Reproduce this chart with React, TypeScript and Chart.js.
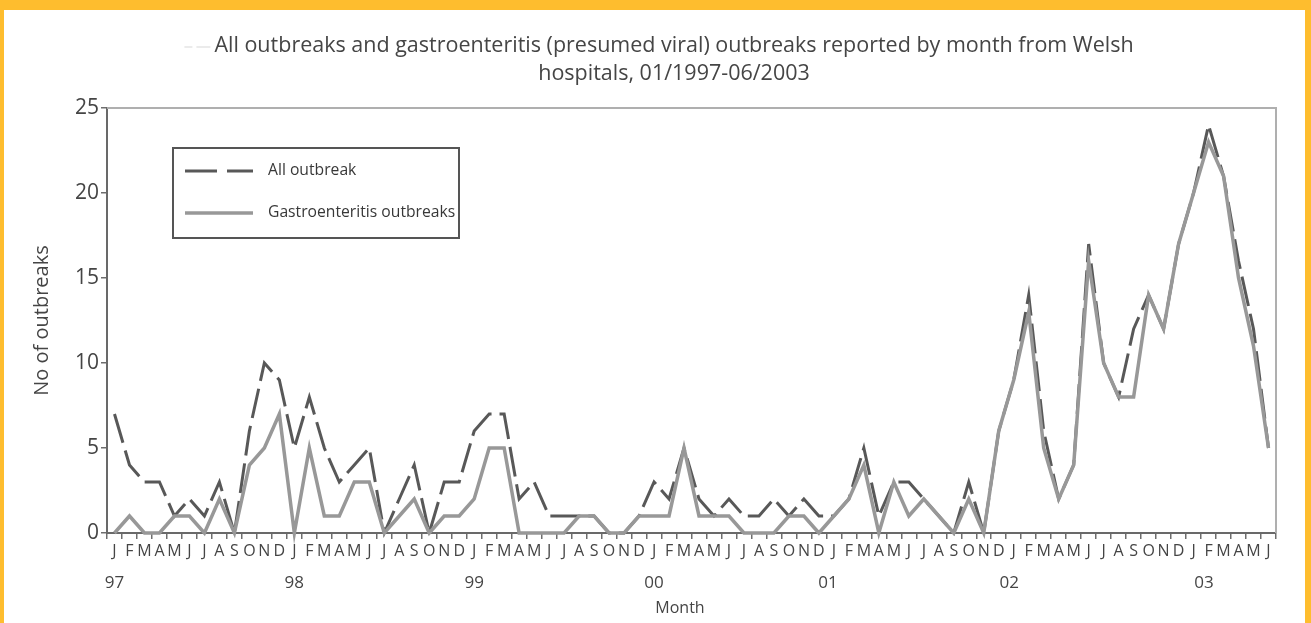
import React, { useEffect, useRef } from "react";
import { Chart, registerables } from "chart.js";

Chart.register(...registerables);

// ---------- data ----------
const categories: string[] = [
  "J", "F", "M", "A", "M", "J", "J", "A", "S", "O", "N", "D", // 1997
  "J", "F", "M", "A", "M", "J", "J", "A", "S", "O", "N", "D", // 1998
  "J", "F", "M", "A", "M", "J", "J", "A", "S", "O", "N", "D", // 1999
  "J", "F", "M", "A", "M", "J", "J", "A", "S", "O", "N", "D", // 2000
  "J", "F", "M", "A", "M", "J", "J", "A", "S", "O", "N", "D", // 2001
  "J", "F", "M", "A", "M", "J", "J", "A", "S", "O", "N", "D", // 2002
  "J", "F", "M", "A", "M", "J", // 2003
];

const allOutbreaks: number[] = [
  7, 4, 3, 3, 1, 2, 1, 3, 0, 6, 10, 9,
  5, 8, 5, 3, 4, 5, 0, 2, 4, 0, 3, 3,
  6, 7, 7, 2, 3, 1, 1, 1, 1, 0, 0, 1,
  3, 2, 5, 2, 1, 2, 1, 1, 2, 1, 2, 1,
  1, 2, 5, 1, 3, 3, 2, 1, 0, 3, 0, 6,
  9, 14, 6, 2, 4, 17, 10, 8, 12, 14, 12, 17,
  20, 24, 21, 16, 12, 5,
];

const gastroOutbreaks: number[] = [
  0, 1, 0, 0, 1, 1, 0, 2, 0, 4, 5, 7,
  0, 5, 1, 1, 3, 3, 0, 1, 2, 0, 1, 1,
  2, 5, 5, 0, 0, 0, 0, 1, 1, 0, 0, 1,
  1, 1, 5, 1, 1, 1, 0, 0, 0, 1, 1, 0,
  1, 2, 4, 0, 3, 1, 2, 1, 0, 2, 0, 6,
  9, 13, 5, 2, 4, 16, 10, 8, 8, 14, 12, 17,
  20, 23, 21, 15, 11, 5,
];

const yearLabels: string[] = ["97", "98", "99", "00", "01", "02", "03"];
// month index (on the category axis) under which each year label sits
const yearLabelMonth: number[] = [0, 12, 24, 36, 47.6, 59.7, 72.7];

const yAxisTicks: number[] = [0, 5, 10, 15, 20, 25];

const titleLines: string[] = [
  "All outbreaks and gastroenteritis (presumed viral) outbreaks reported by month from Welsh",
  "hospitals, 01/1997-06/2003",
];
const seriesNames: string[] = ["All outbreak", "Gastroenteritis outbreaks"];
const xAxisTitle = "Month";
const yAxisTitle = "No of outbreaks";

// ---------- styles ----------
const FONT = "'Open Sans', 'Noto Sans', sans-serif";
const DARK = "rgb(88,88,88)";
const LIGHT = "rgb(152,152,152)";
const TEXT = "#454545";
const FRAME_YELLOW = "rgb(254,189,46)";
const DASH = [30, 8];

const decorPlugin = {
  id: "decor",
  beforeDraw(chart: any) {
    const { ctx, width, height } = chart;
    ctx.save();
    ctx.fillStyle = FRAME_YELLOW;
    ctx.fillRect(0, 0, width, height);
    ctx.fillStyle = "#ffffff";
    ctx.fillRect(4, 10, width - 10, height - 10);
    ctx.restore();
  },
  beforeDatasetsDraw(chart: any) {
    const { ctx, chartArea } = chart;
    ctx.save();
    ctx.strokeStyle = "rgb(175,175,175)";
    ctx.lineWidth = 2;
    ctx.beginPath();
    ctx.moveTo(chartArea.left, chartArea.top);
    ctx.lineTo(chartArea.right, chartArea.top);
    ctx.lineTo(chartArea.right, chartArea.bottom);
    ctx.stroke();
    ctx.restore();
  },
  afterDraw(chart: any) {
    const { ctx, chartArea } = chart;
    const xScale = chart.scales.x;
    ctx.save();
    // title
    ctx.fillStyle = TEXT;
    ctx.font = `21.5px ${FONT}`;
    ctx.textAlign = "center";
    ctx.textBaseline = "middle";
    const cx = 674;
    ctx.fillText(titleLines[0], cx, 46);
    ctx.fillText(titleLines[1], cx, 74);
    // faint mark before the title
    const w0 = ctx.measureText(titleLines[0]).width;
    ctx.strokeStyle = "rgb(215,215,215)";
    ctx.lineWidth = 1;
    ctx.beginPath();
    ctx.moveTo(cx - w0 / 2 - 30, 47);
    ctx.lineTo(cx - w0 / 2 - 22, 47);
    ctx.moveTo(cx - w0 / 2 - 18, 47);
    ctx.lineTo(cx - w0 / 2 - 4, 47);
    ctx.stroke();

    // year labels
    ctx.fillStyle = TEXT;
    ctx.font = `17px ${FONT}`;
    ctx.textAlign = "center";
    yearLabels.forEach((lab, k) => {
      const px = xScale.getPixelForValue(yearLabelMonth[k]);
      ctx.fillText(lab, px, 583);
    });

    // x axis title
    ctx.font = `16px ${FONT}`;
    ctx.fillText(xAxisTitle, 680, 608);

    // legend box
    const lx = chartArea.left + 66;
    const ly = chartArea.top + 40;
    const lw = 286;
    const lh = 90;
    ctx.strokeStyle = "rgb(85,85,85)";
    ctx.lineWidth = 2;
    ctx.strokeRect(lx, ly, lw, lh);
    // samples
    ctx.lineCap = "butt";
    ctx.strokeStyle = DARK;
    ctx.lineWidth = 3;
    ctx.setLineDash([32, 10]);
    ctx.beginPath();
    ctx.moveTo(lx + 12, ly + 23);
    ctx.lineTo(lx + 80, ly + 23);
    ctx.stroke();
    ctx.setLineDash([]);
    ctx.strokeStyle = LIGHT;
    ctx.lineWidth = 3.5;
    ctx.beginPath();
    ctx.moveTo(lx + 12, ly + 65);
    ctx.lineTo(lx + 80, ly + 65);
    ctx.stroke();
    ctx.fillStyle = "#383838";
    ctx.font = `15.7px ${FONT}`;
    ctx.textAlign = "left";
    ctx.textBaseline = "middle";
    ctx.fillText(seriesNames[0], lx + 95, ly + 23);
    ctx.fillText(seriesNames[1], lx + 95, ly + 65);
    ctx.restore();
  },
};

export default function App() {
  const ref = useRef<HTMLCanvasElement>(null);
  useEffect(() => {
    document.body.style.margin = "0";
    const canvas = ref.current;
    if (!canvas) return;
    Chart.defaults.font.family = FONT;
    const chart = new Chart(canvas, {
      type: "line",
      data: {
        labels: categories,
        datasets: [
          {
            label: seriesNames[0],
            data: allOutbreaks,
            borderColor: DARK,
            borderWidth: 3,
            borderDash: DASH,
            pointRadius: 0,
            tension: 0,
            fill: false,
            order: 2,
            clip: false as any,
          },
          {
            label: seriesNames[1],
            data: gastroOutbreaks,
            borderColor: LIGHT,
            borderWidth: 3.5,
            pointRadius: 0,
            tension: 0,
            fill: false,
            order: 1,
            clip: false as any,
          },
        ],
      },
      options: {
        responsive: false,
        animation: false,
        events: [],
        layout: { padding: { top: 108, right: 35, left: 0, bottom: 0 } },
        plugins: {
          legend: { display: false },
          title: { display: false },
          tooltip: { enabled: false },
        },
        scales: {
          x: {
            type: "category",
            offset: true,
            grid: {
              display: true,
              drawOnChartArea: false,
              drawTicks: true,
              tickLength: 6,
              color: "rgb(110,110,110)",
              lineWidth: 1.5,
              offset: true,
            },
            border: { display: true, color: "rgb(105,105,105)", width: 2 },
            ticks: {
              autoSkip: false,
              maxRotation: 0,
              minRotation: 0,
              padding: 3,
              color: TEXT,
              font: { size: 16, family: FONT },
            },
            title: { display: false },
            afterFit: (s: any) => {
              s.height = 90;
            },
          },
          y: {
            min: 0,
            max: 25,
            afterBuildTicks: (s: any) => {
              s.ticks = yAxisTicks.map((v) => ({ value: v }));
            },
            ticks: {
              padding: 2,
              color: TEXT,
              font: { size: 21, family: FONT },
            },
            grid: {
              drawOnChartArea: false,
              drawTicks: true,
              tickLength: 6,
              color: "rgb(110,110,110)",
              lineWidth: 1.5,
            },
            border: { display: true, color: "rgb(105,105,105)", width: 2 },
            title: {
              display: true,
              text: yAxisTitle,
              color: TEXT,
              font: { size: 20, family: FONT },
              padding: { top: 30, bottom: 0 },
            },
            afterFit: (s: any) => {
              s.width = 107;
            },
          },
        },
      } as any,
      plugins: [decorPlugin],
    });
    return () => chart.destroy();
  }, []);
  return (
    <div style={{ position: "fixed", left: 0, top: 0, width: 1311, height: 623 }}>
      <canvas ref={ref} width={1311} height={623} style={{ display: "block" }} />
    </div>
  );
}
